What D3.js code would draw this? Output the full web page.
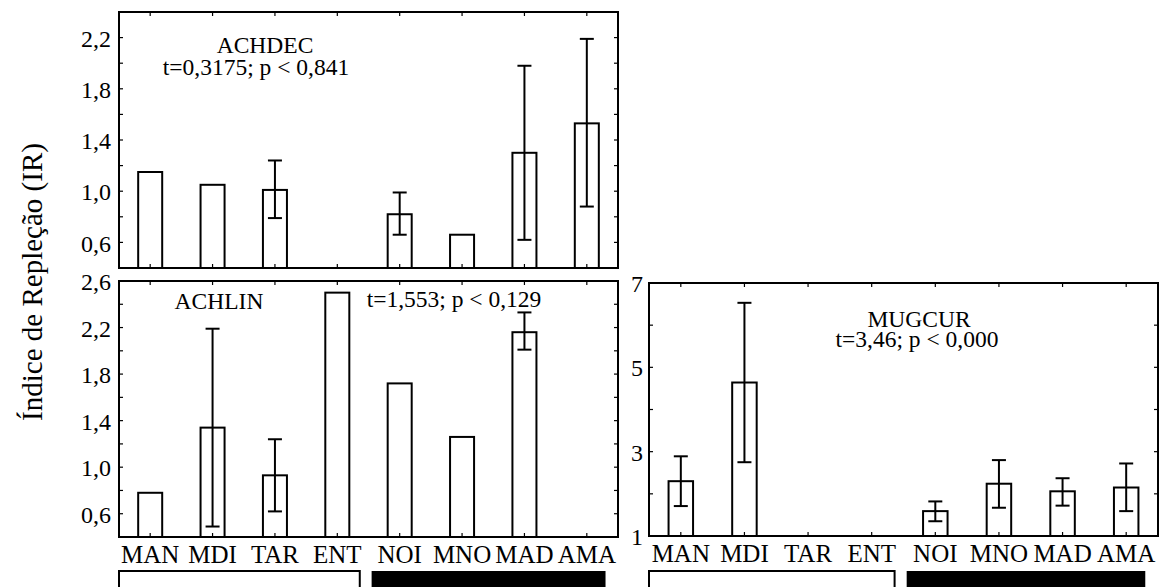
<!DOCTYPE html>
<html>
<head>
<meta charset="utf-8">
<script src="https://cdn.jsdelivr.net/npm/d3@7"></script>
<style>
  html, body { margin: 0; padding: 0; background: #fff; }
</style>
</head>
<body>
<svg id="chart" width="1159" height="587"></svg>
<script>
// Diel periods (day: MAN–ENT, night: NOI–AMA)
const categories = ["MAN", "MDI", "TAR", "ENT", "NOI", "MNO", "MAD", "AMA"];

// ACHDEC — mean repletion index and error-bar limits
const achdecMean = [1.15, 1.05, 1.01, null, 0.82, 0.66, 1.30, 1.53];
const achdecLow  = [null, null, 0.79, null, 0.66, null, 0.62, 0.88];
const achdecHigh = [null, null, 1.24, null, 0.99, null, 1.98, 2.19];

// ACHLIN
const achlinMean = [0.78, 1.34, 0.93, 2.50, 1.72, 1.26, 2.16, null];
const achlinLow  = [null, 0.49, 0.62, null, null, null, 2.01, null];
const achlinHigh = [null, 2.19, 1.24, null, null, null, 2.33, null];

// MUGCUR
const mugcurMean = [2.30, 4.64, null, null, 1.59, 2.24, 2.06, 2.15];
const mugcurLow  = [1.71, 2.75, null, null, 1.35, 1.67, 1.72, 1.59];
const mugcurHigh = [2.89, 6.53, null, null, 1.82, 2.80, 2.37, 2.72];

// Axis ticks
const achdecTicks = [0.6, 1.0, 1.4, 1.8, 2.2];
const achdecMinor = [0.4, 0.6, 0.8, 1.0, 1.2, 1.4, 1.6, 1.8, 2.0, 2.2, 2.4];
const achlinTicks = [0.6, 1.0, 1.4, 1.8, 2.2, 2.6];
const achlinMinor = [0.4, 0.6, 0.8, 1.0, 1.2, 1.4, 1.6, 1.8, 2.0, 2.2, 2.4, 2.6];
const mugcurTicks = [1, 3, 5, 7];
const mugcurMinor = [1, 2, 3, 4, 5, 6, 7];

const FONT = '"Liberation Serif", "DejaVu Serif", "Times New Roman", serif';
const svg = d3.select("#chart");
const commaFmt = f => v => d3.format(f)(v).replace(".", ",");

function drawPanel(p) {
  const g = svg.append("g");
  const x = d3.scaleBand().domain(categories).range([p.x0, p.x1]);
  const y = d3.scaleLinear().domain(p.domain).range([p.y1, p.y0]);
  const bw = x.bandwidth() * 0.385;
  const cx = c => x(c) + x.bandwidth() / 2;
  const rows = categories.map((c, i) => ({ c, m: p.mean[i], lo: p.low[i], hi: p.high[i] }));

  // bars
  g.selectAll("rect.bar").data(rows.filter(d => d.m != null)).join("rect")
    .attr("x", d => cx(d.c) - bw / 2)
    .attr("y", d => y(d.m))
    .attr("width", bw)
    .attr("height", d => y(p.domain[0]) - y(d.m))
    .attr("fill", "#fff").attr("stroke", "#000").attr("stroke-width", 2);

  // error bars
  const eb = rows.filter(d => d.lo != null && d.hi != null);
  const cap = 14;
  g.selectAll("line.stem").data(eb).join("line")
    .attr("x1", d => cx(d.c)).attr("x2", d => cx(d.c))
    .attr("y1", d => y(d.lo)).attr("y2", d => y(d.hi))
    .attr("stroke", "#000").attr("stroke-width", 2);
  ["lo", "hi"].forEach(k => {
    g.selectAll("line.cap" + k).data(eb).join("line")
      .attr("x1", d => cx(d.c) - cap / 2).attr("x2", d => cx(d.c) + cap / 2)
      .attr("y1", d => y(d[k])).attr("y2", d => y(d[k]))
      .attr("stroke", "#000").attr("stroke-width", 2);
  });

  // inward ticks on all four sides
  const tl = 4;
  const tickG = g.append("g").attr("stroke", "#000").attr("stroke-width", 1.2);
  p.minor.forEach(v => {
    tickG.append("line").attr("x1", p.x0).attr("x2", p.x0 + tl).attr("y1", y(v)).attr("y2", y(v));
    tickG.append("line").attr("x1", p.x1).attr("x2", p.x1 - tl).attr("y1", y(v)).attr("y2", y(v));
  });
  categories.forEach(c => {
    tickG.append("line").attr("x1", cx(c)).attr("x2", cx(c)).attr("y1", p.y0).attr("y2", p.y0 + tl);
    tickG.append("line").attr("x1", cx(c)).attr("x2", cx(c)).attr("y1", p.y1).attr("y2", p.y1 - tl);
  });

  // frame
  g.append("rect")
    .attr("x", p.x0).attr("y", p.y0)
    .attr("width", p.x1 - p.x0).attr("height", p.y1 - p.y0)
    .attr("fill", "none").attr("stroke", "#000").attr("stroke-width", 2);

  // y tick labels
  const ax = d3.axisLeft(y).tickValues(p.ticks).tickFormat(p.fmt).tickSize(0).tickPadding(p.pad);
  const axG = g.append("g").attr("transform", `translate(${p.x0},0)`).call(ax);
  axG.select(".domain").remove();
  axG.selectAll("text").style("font-family", FONT).style("font-size", "24px").attr("dy", "0.36em");

  // category labels and day/night bars
  if (p.xLabels) {
    const bx = d3.axisBottom(x).tickSize(0).tickPadding(0);
    const bxG = g.append("g").attr("transform", `translate(0,${p.y1 + 26})`).call(bx);
    bxG.select(".domain").remove();
    bxG.selectAll("text").style("font-family", FONT).style("font-size", "25px").attr("dy", 0);

    const b = x.bandwidth();
    g.append("rect")
      .attr("x", p.x0).attr("y", 571)
      .attr("width", x("ENT") + b * 0.86 - p.x0).attr("height", 30)
      .attr("fill", "#fff").attr("stroke", "#000").attr("stroke-width", 2);
    g.append("rect")
      .attr("x", x("NOI") + b * 0.05).attr("y", 571)
      .attr("width", x("AMA") + b * 0.8 - x("NOI") - b * 0.05).attr("height", 30)
      .attr("fill", "#000");
  }

  // titles
  p.titles.forEach(t => {
    g.append("text").attr("x", t.x).attr("y", t.y).attr("text-anchor", "middle")
      .style("font-family", FONT).style("font-size", "23.5px").text(t.text);
  });
}

drawPanel({
  x0: 119, x1: 618, y0: 12, y1: 268, domain: [0.4, 2.4],
  mean: achdecMean, low: achdecLow, high: achdecHigh,
  ticks: achdecTicks, minor: achdecMinor, fmt: commaFmt(".1f"), pad: 8,
  xLabels: false,
  titles: [{ x: 265, y: 53, text: "ACHDEC" }, { x: 256, y: 75, text: "t=0,3175; p < 0,841" }]
});

drawPanel({
  x0: 119, x1: 618, y0: 281, y1: 537, domain: [0.4, 2.6],
  mean: achlinMean, low: achlinLow, high: achlinHigh,
  ticks: achlinTicks, minor: achlinMinor, fmt: commaFmt(".1f"), pad: 8,
  xLabels: true,
  titles: [{ x: 219, y: 309, text: "ACHLIN" }, { x: 454, y: 307, text: "t=1,553; p < 0,129" }]
});

drawPanel({
  x0: 649, x1: 1158, y0: 283, y1: 536, domain: [1, 7],
  mean: mugcurMean, low: mugcurLow, high: mugcurHigh,
  ticks: mugcurTicks, minor: mugcurMinor, fmt: d3.format("d"), pad: 6,
  xLabels: true,
  titles: [{ x: 919, y: 327, text: "MUGCUR" }, { x: 917, y: 347, text: "t=3,46; p < 0,000" }]
});

// shared y-axis title
svg.append("text")
  .attr("transform", "translate(42,282) rotate(-90)")
  .attr("text-anchor", "middle")
  .style("font-family", FONT).style("font-size", "29px")
  .text("Índice de Repleção (IR)");
</script>
</body>
</html>
